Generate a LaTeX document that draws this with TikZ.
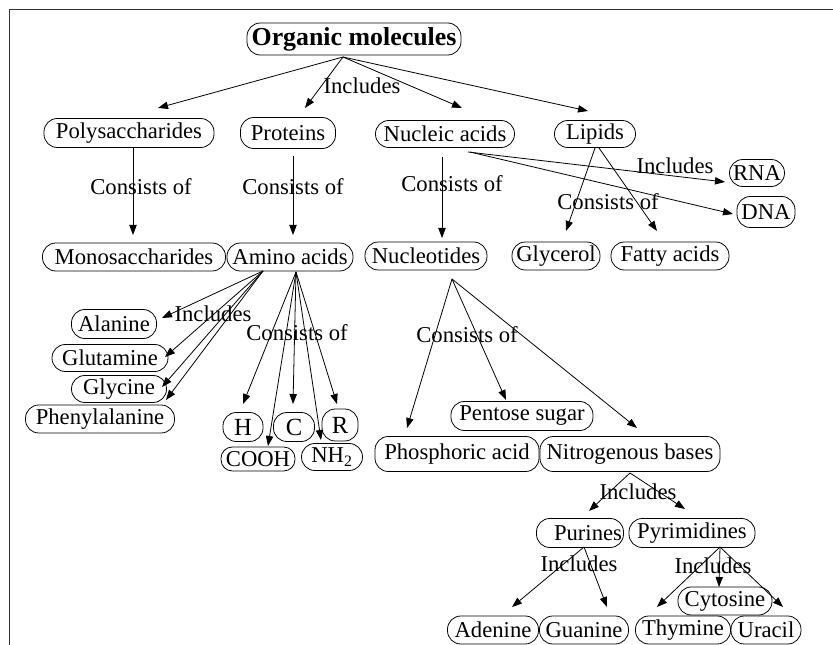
\documentclass[tikz,border=0pt]{standalone}
\usepackage{fontspec}
\setmainfont{Liberation Serif}
\usetikzlibrary{arrows.meta,calc}
\begin{document}
\begin{tikzpicture}[x=0.75pt,y=-0.75pt,
  bx/.style={draw,line width=0.6pt,rounded corners=10pt,inner sep=0pt,font=\fontsize{17}{19}\selectfont},
  sz/.style 2 args={minimum width=#1*0.75pt,minimum height=#2*0.75pt},
  big/.style={font=\fontsize{18.5}{20}\selectfont},
  lbl/.style={inner sep=0pt,font=\fontsize{17}{19}\selectfont},
  arr/.style={line width=0.6pt,-{Triangle[length=7.5pt,width=5.5pt]}}]
\useasboundingbox (0,0) rectangle (833,645);
\draw[line width=1.2pt,black!80] (9.5,645) -- (9.5,9.5) -- (833,9.5);
% nodes
\node[bx,sz={214}{32},font=\bfseries\fontsize{19.4}{21}\selectfont] (org) at (354,39) {Organic molecules};
\node[bx,sz={170}{29}] (pol) at (129,133) {Polysaccharides};
\node[bx,sz={95}{31}] (pro) at (288,133) {Proteins};
\node[bx,sz={139}{27}] (nuc) at (445,134) {Nucleic acids};
\node[bx,sz={81}{27}] (lip) at (595,134) {Lipids};
\node[bx,sz={55}{27}] (rna) at (757,173) {RNA};
\node[bx,sz={58}{31}] (dna) at (766,212) {DNA};
\node[bx,sz={88}{28}] (gly) at (556,256) {Glycerol};
\node[bx,sz={118}{28}] (fat) at (670,256) {Fatty acids};
\node[bx,sz={122}{28}] (ntd) at (426,256) {Nucleotides};
\node[bx,sz={183}{28}] (mono) at (134,257) {Monosaccharides};
\node[bx,sz={126}{28}] (ami) at (290,257) {Amino acids};
\node[bx,sz={85}{29}] (ala) at (114,324) {Alanine};
\node[bx,sz={116}{27}] (glu) at (110,358) {Glutamine};
\node[bx,sz={95}{27}] (glc) at (119,389) {Glycine};
\node[bx,sz={149}{28}] (phe) at (100,419) {Phenylalanine};
\node[bx,sz={40}{29},big] (h) at (243,427) {H};
\node[bx,sz={41}{29},big] (c) at (294,427) {C};
\node[bx,sz={36}{32},big] (r) at (340,425) {R};
\node[bx,sz={74}{24},rounded corners=8.5pt] (cooh) at (258,459) {COOH};
\node[bx,sz={61}{27}] (nh) at (332,457) {NH\textsubscript{2}};
\node[bx,sz={164}{35}] (pho) at (457,454) {Phosphoric acid};
\node[bx,sz={180}{35}] (nit) at (630,454) {Nitrogenous bases};
\node[bx,sz={142}{29}] (pen) at (522,416) {Pentose sugar};
\node[bx,sz={87}{29}] (pur) at (580,533) {\hspace*{12pt}Purines};
\node[bx,sz={126}{29}] (pyr) at (692,533) {Pyrimidines};
\node[bx,sz={91}{28}] (ade) at (493,630) {Adenine};
\node[bx,sz={89}{28}] (gua) at (584,630) {Guanine};
\node[bx,sz={95}{28}] (thy) at (683,630) {Thymine};
\node[bx,sz={70}{28}] (ura) at (766,630) {Uracil};
\node[bx,sz={94}{28}] (cyt) at (725,601) {Cytosine};
% labels
\node[lbl] (l1) at (362,86) {Includes};
\node[lbl] (l2) at (141,187) {Consists of};
\node[lbl] (l3) at (293,187) {Consists of};
\node[lbl] (l4) at (452,184) {Consists of};
\node[lbl] (l5) at (675,166) {Includes};
\node[lbl] (l6) at (608,202) {Consists of};
\node[lbl] (l7) at (213,314) {Includes};
\node[lbl] (l8) at (297,333) {Consists of};
\node[lbl] (l9) at (467,335) {Consists of};
\node[lbl] (l10) at (638,492) {Includes};
\node[lbl] (l11) at (579,564) {Includes};
\node[lbl] (l12) at (713,566) {Includes};
% edges
\draw[arr] ($(org)+(-11,18)$) -- ($(pol)+(29,-25)$);
\draw[arr] ($(org)+(-11,18)$) -- ($(pro)+(17,-25)$);
\draw[arr] ($(org)+(-11,18)$) -- ($(nuc)+(17,-26)$);
\draw[arr] ($(org)+(-11,18)$) -- ($(lip)+(-7,-23)$);
\draw[arr] ($(pol)+(4,15)$) -- ($(mono)+(-1,-22)$);
\draw[arr] ($(pro)+(5,23)$) -- ($(ami)+(3,-22)$);
\draw[arr] ($(nuc)+(-3,23)$) -- ($(ntd)+(16,-18)$);
\draw[arr] ($(nuc)+(23,18)$) -- ($(rna)+(-32,9)$);
\draw[arr] ($(nuc)+(25,18)$) -- ($(dna)+(-33,2)$);
\draw[arr] ($(lip)+(0,14)$) -- ($(gly)+(10,-25)$);
\draw[arr] ($(lip)+(4,14)$) -- ($(fat)+(-13,-25)$);
\draw[arr] ($(ami)+(-27,14)$) -- ($(ala)+(48,-6)$);
\draw[arr] ($(ami)+(-27,14)$) -- ($(glu)+(55,-1)$);
\draw[arr] ($(ami)+(-27,14)$) -- ($(glc)+(43,-2)$);
\draw[arr] ($(ami)+(-27,14)$) -- ($(phe)+(66,-19)$);
\draw[arr] ($(ami)+(6,15)$) -- ($(h)+(0,-23)$);
\draw[arr] ($(ami)+(6,15)$) -- ($(cooh)+(10,-13)$);
\draw[arr] ($(ami)+(6,15)$) -- ($(c)+(-1,-23)$);
\draw[arr] ($(ami)+(6,15)$) -- ($(nh)+(-11,-17)$);
\draw[arr] ($(ami)+(6,15)$) -- ($(r)+(-3,-21)$);
\draw[arr] ($(ntd)+(26,23)$) -- ($(pho)+(-50,-26)$);
\draw[arr] ($(ntd)+(26,23)$) -- ($(pen)+(-16,-16)$);
\draw[arr] ($(ntd)+(26,23)$) -- ($(nit)+(7,-26)$);
\draw[arr] ($(nit)+(0,19)$) -- ($(pur)+(9,-22)$);
\draw[arr] ($(nit)+(0,19)$) -- ($(pyr)+(-7,-24)$);
\draw[arr] ($(pur)+(4,14)$) -- ($(ade)+(19,-23)$);
\draw[arr] ($(pur)+(4,14)$) -- ($(gua)+(23,-23)$);
\draw[arr] ($(pyr)+(28,14)$) -- ($(thy)+(-26,-23)$);
\draw[arr] ($(pyr)+(28,14)$) -- ($(cyt)+(-6,-14)$);
\draw[arr] ($(pyr)+(28,14)$) -- ($(ura)+(17,-23)$);
\end{tikzpicture}
\end{document}
